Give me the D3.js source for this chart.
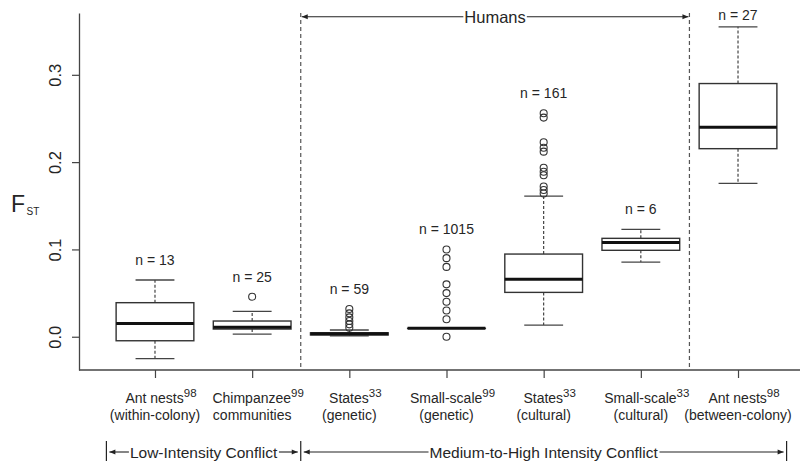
<!DOCTYPE html>
<html><head><meta charset="utf-8">
<script src="https://cdn.jsdelivr.net/npm/d3@7"></script>
<style>
html,body{margin:0;padding:0;background:#fff;}
svg{display:block;font-family:"Liberation Sans",Arial,Helvetica,sans-serif;}
</style></head>
<body>
<svg id="chart" width="803" height="461"></svg>
<script>
// ---- data ----
const categories = ["Ant nests", "Chimpanzee", "States", "Small-scale", "States", "Small-scale", "Ant nests"];
const subLabels = ["(within-colony)", "communities", "(genetic)", "(genetic)", "(cultural)", "(cultural)", "(between-colony)"];
const refs = ["98", "99", "33", "99", "33", "33", "98"];
const nCounts = [13, 25, 59, 1015, 161, 6, 27];
const whiskerLow  = [-0.025, 0.003, 0.001, 0.0096, 0.0134, 0.0855, 0.1757];
const q1          = [-0.0046, 0.0088, 0.0020, 0.0096, 0.0508, 0.0990, 0.2154];
const median      = [0.0153, 0.0108, 0.0034, 0.0096, 0.0657, 0.1080, 0.2400];
const q3          = [0.0390, 0.0180, 0.0045, 0.0096, 0.0947, 0.1127, 0.2900];
const whiskerHigh = [0.0650, 0.0290, 0.0077, 0.0096, 0.1610, 0.1230, 0.3550];
const outliers = [
  [],
  [0.0458],
  [0.0317, 0.0268, 0.0222, 0.0180, 0.0142, 0.0103],
  [0.10, 0.09, 0.08, 0.06, 0.05, 0.04, 0.03, 0.02, 0.0],
  [0.256, 0.251, 0.2227, 0.2165, 0.212, 0.1936, 0.189, 0.185, 0.172, 0.168, 0.164],
  [],
  []
];
const yTicks = [0, 0.1, 0.2, 0.3];
const yTickLabels = ["0.0", "0.1", "0.2", "0.3"];
const groupLabels = ["Low-Intensity Conflict", "Medium-to-High Intensity Conflict"];
const groupSpans = [[0.5, 2.5], [2.5, 7.5]];
const humansLabel = "Humans";
const humansSpan = [2.5, 6.5];

// ---- layout ----
const svg = d3.select("#chart");
const axisX = 79, axisY = 370, topY = 13;
const ink = "#222";
const txt = "#262626";

const x = d3.scaleLinear().domain([0.5, 7.5]).range([106.4, 786.6]);
const y = d3.scaleLinear().domain([-0.0381, 0.3708]).range([axisY, topY]);
const step = x(2) - x(1);
const boxW = step * 0.8;
const capW = boxW * 0.5;

// y axis
const yAxis = svg.append("g").attr("transform", `translate(${axisX},0)`)
  .call(d3.axisLeft(y).tickValues(yTicks).tickSize(7).tickSizeOuter(0)
    .tickFormat((d, i) => yTickLabels[i]));
yAxis.select(".domain").attr("stroke", "#444").attr("stroke-width", 1.3);
yAxis.selectAll(".tick line").attr("stroke", "#444").attr("stroke-width", 1.2);
yAxis.selectAll(".tick text")
  .attr("x", 0).attr("y", -18).attr("dy", null)
  .attr("transform", "rotate(-90)")
  .attr("text-anchor", "middle")
  .attr("font-size", 16.5).attr("fill", txt)
  .attr("font-family", "Liberation Sans, Arial, sans-serif");

// x axis
svg.append("line").attr("x1", axisX).attr("x2", 800).attr("y1", axisY).attr("y2", axisY)
  .attr("stroke", "#444").attr("stroke-width", 1.3);
const xAxis = svg.append("g").attr("transform", `translate(0,${axisY})`)
  .call(d3.axisBottom(x).tickValues(d3.range(1, categories.length + 1)).tickSize(8).tickFormat(""));
xAxis.select(".domain").remove();
xAxis.selectAll(".tick line").attr("stroke", "#444").attr("stroke-width", 1.2);

// F_ST label
const fst = svg.append("text").attr("x", 11).attr("y", 212).attr("fill", txt);
fst.append("tspan").attr("font-size", 23).text("F");
fst.append("tspan").attr("font-size", 10).attr("dx", 1.5).attr("dy", 2.5).text("ST");

// category labels
categories.forEach((c, i) => {
  const cx = x(i + 1);
  const t = svg.append("text").attr("x", cx + 6).attr("y", 403)
    .attr("text-anchor", "middle").attr("font-size", 14).attr("fill", txt);
  t.append("tspan").text(c);
  t.append("tspan").attr("font-size", 11.5).attr("dy", -6).text(refs[i]);
  svg.append("text").attr("x", cx).attr("y", 420)
    .attr("text-anchor", "middle").attr("font-size", 14).attr("fill", txt)
    .text(subLabels[i]);
});

// separators
[humansSpan[0], humansSpan[1]].forEach(v => {
  svg.append("line").attr("x1", x(v)).attr("x2", x(v)).attr("y1", topY).attr("y2", axisY)
    .attr("stroke", "#555").attr("stroke-width", 1.2).attr("stroke-dasharray", "4,3");
});

function arrowHead(px, py, dir) {
  const L = 6, Hh = 2.5;
  svg.append("path")
    .attr("d", `M${px},${py} L${px - dir * L},${py - Hh} L${px - dir * L},${py + Hh} Z`)
    .attr("fill", ink);
}

function spanArrow(x0, x1, yy, label, fs, baseOff) {
  const tx = (x0 + x1) / 2;
  const t = svg.append("text").attr("x", tx).attr("y", yy + baseOff)
    .attr("text-anchor", "middle").attr("font-size", fs).attr("fill", txt).text(label);
  const bb = t.node().getBBox();
  svg.append("line").attr("x1", x0).attr("x2", bb.x - 1).attr("y1", yy).attr("y2", yy)
    .attr("stroke", ink).attr("stroke-width", 1.1);
  svg.append("line").attr("x1", bb.x + bb.width + 1).attr("x2", x1).attr("y1", yy).attr("y2", yy)
    .attr("stroke", ink).attr("stroke-width", 1.1);
  arrowHead(x0, yy, -1);
  arrowHead(x1, yy, 1);
}

// Humans arrow
spanArrow(x(humansSpan[0]) + 1, x(humansSpan[1]) - 1, 16.7, humansLabel, 16.5, 6);

// conflict group arrows
const gy = 452;
[0.5, 2.5, 7.5].forEach(v => {
  svg.append("line").attr("x1", x(v)).attr("x2", x(v)).attr("y1", 441).attr("y2", 461)
    .attr("stroke", ink).attr("stroke-width", 1.2);
});
groupLabels.forEach((g, i) => {
  spanArrow(x(groupSpans[i][0]) + 3, x(groupSpans[i][1]) - 3, gy, g, 15.5, 5.5);
});

// boxplots
categories.forEach((c, i) => {
  const cx = x(i + 1);
  const g = svg.append("g");
  g.append("line").attr("x1", cx).attr("x2", cx).attr("y1", y(q3[i])).attr("y2", y(whiskerHigh[i]))
    .attr("stroke", "#333").attr("stroke-width", 1.1).attr("stroke-dasharray", "3,2");
  g.append("line").attr("x1", cx).attr("x2", cx).attr("y1", y(q1[i])).attr("y2", y(whiskerLow[i]))
    .attr("stroke", "#333").attr("stroke-width", 1.1).attr("stroke-dasharray", "3,2");
  [whiskerHigh[i], whiskerLow[i]].forEach(v => {
    g.append("line").attr("x1", cx - capW / 2).attr("x2", cx + capW / 2).attr("y1", y(v)).attr("y2", y(v))
      .attr("stroke", "#444").attr("stroke-width", 1.3);
  });
  g.append("rect").attr("x", cx - boxW / 2).attr("y", y(q3[i]))
    .attr("width", boxW).attr("height", Math.max(0.01, y(q1[i]) - y(q3[i])))
    .attr("fill", "#fff").attr("stroke", "#333").attr("stroke-width", 1.4);
  g.append("line").attr("x1", cx - boxW / 2).attr("x2", cx + boxW / 2)
    .attr("y1", y(median[i])).attr("y2", y(median[i]))
    .attr("stroke", "#111").attr("stroke-width", 3);
  g.selectAll("circle").data(outliers[i]).enter().append("circle")
    .attr("cx", cx).attr("cy", d => y(d)).attr("r", 3.5)
    .attr("fill", "none").attr("stroke", "#333").attr("stroke-width", 1.1);
  const top = d3.max([whiskerHigh[i], ...outliers[i]]);
  g.append("text").attr("x", cx).attr("y", Math.max(y(top) - 15, 20))
    .attr("text-anchor", "middle").attr("font-size", 14).attr("fill", txt)
    .text(`n = ${nCounts[i]}`);
});
</script>
</body></html>
